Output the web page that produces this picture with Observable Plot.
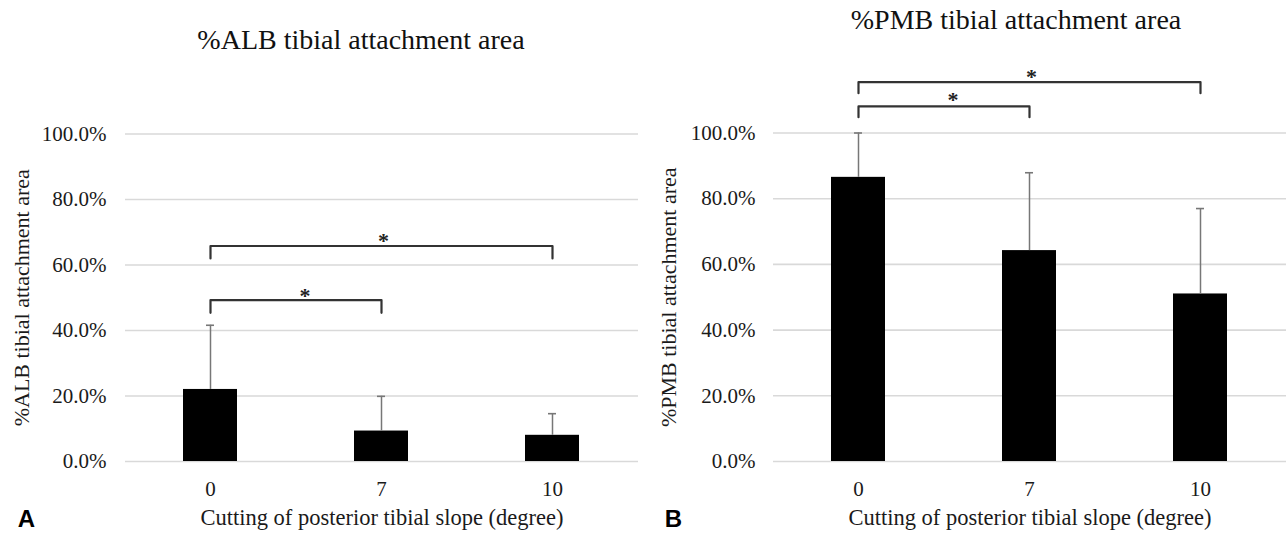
<!DOCTYPE html>
<html><head><meta charset="utf-8">
<script src="https://cdn.jsdelivr.net/npm/d3@7"></script>
<script src="https://cdn.jsdelivr.net/npm/@observablehq/plot@0.6"></script>
<style>
html,body{margin:0;padding:0;background:#fff;}
#wrap{display:flex;width:1286px;height:535px;overflow:hidden;}
#wrap svg{display:block;overflow:visible;}
</style></head><body><div id="wrap"></div>
<script>
// ---- data ----
const categories = ["0", "7", "10"];
const albMean  = [22.0, 9.3, 8.0];
const albUpper = [41.6, 19.9, 14.6];   // mean + SD
const pmbMean  = [86.5, 64.2, 51.0];
const pmbUpper = [100.0, 87.9, 77.0];  // mean + SD (first clipped at 100%)
const yTicks = [0, 20, 40, 60, 80, 100];
const albBrackets = [
  {from: "0", to: "7",  level: 49.3,  tip: 45.4,  star: 52.3},
  {from: "0", to: "10", level: 65.8,  tip: 62.0,  star: 69.2}
];
const pmbBrackets = [
  {from: "0", to: "7",  level: 108.1, tip: 104.8, star: 111.9},
  {from: "0", to: "10", level: 115.5, tip: 112.1, star: 118.8}
];
const xTitle = "Cutting of posterior tibial slope (degree)";

const SERIF = "'Liberation Serif', 'Times New Roman', serif";
const SANS = "'Liberation Sans', Arial, sans-serif";

function panel(o) {
  const W = 643, H = 535, mb = 74;
  const rows = categories.map((c, i) => ({cat: c, mean: o.mean[i], upper: o.upper[i]}));
  const segs = o.brackets.flatMap((b, k) => [
    {k, x: b.from, y: b.tip}, {k, x: b.from, y: b.level},
    {k, x: b.to, y: b.level}, {k, x: b.to, y: b.tip}
  ]);
  const step = (W - o.ml - o.mr) / categories.length;
  const bw = step * 0.316;
  return Plot.plot({
    width: W, height: H,
    marginLeft: o.ml, marginRight: o.mr, marginTop: o.mt, marginBottom: mb,
    style: {fontFamily: SERIF, color: "#1a1a1a", background: "#fff", overflow: "visible"},
    x: {type: "band", domain: categories, paddingInner: 0.684, paddingOuter: 0.342},
    y: {domain: [0, 100]},
    marks: [
      Plot.gridY(yTicks, {stroke: "#d9d9d9", strokeOpacity: 1, strokeWidth: 1.6}),
      Plot.axisY(yTicks, {tickSize: 0, tickPadding: o.tp, fontSize: 21, label: null,
        tickFormat: d => d.toFixed(1) + "%"}),
      Plot.axisX(categories, {tickSize: 0, tickPadding: 20, fontSize: 21, label: null}),
      Plot.barY(rows, {x: "cat", y: "mean", fill: "#000"}),
      Plot.ruleX(rows, {x: "cat", y1: "mean", y2: "upper", stroke: "#777", strokeWidth: 1.5}),
      Plot.tickY(rows, {x: "cat", y: "upper", stroke: "#777", strokeWidth: 1.6, inset: (bw - 8) / 2}),
      Plot.line(segs, {x: "x", y: "y", z: "k", stroke: "#333", strokeWidth: 2.2}),
      Plot.text(o.brackets.filter(b => b.to === "7"), {x: "from", y: "star", text: () => "*",
        dx: step / 2 + 9, dy: 6, fontSize: 22, fontWeight: "bold", fill: "#222"}),
      Plot.text(o.brackets.filter(b => b.to === "10"), {x: () => "7", y: "star", text: () => "*",
        dx: 2, dy: 6, fontSize: 22, fontWeight: "bold", fill: "#222"}),
      Plot.text([o.title], {frameAnchor: "top", dx: o.titleDx, dy: o.titleY - o.mt,
        fontSize: 28, lineAnchor: "middle", textAnchor: "middle", fill: "#111"}),
      Plot.text([o.ytitle], {frameAnchor: "left", rotate: -90, dx: o.yTitleX - o.ml,
        fontSize: 22, lineAnchor: "middle", textAnchor: "middle", fill: "#1a1a1a"}),
      Plot.text([xTitle], {frameAnchor: "bottom", dy: 56, fontSize: 22.5,
        lineAnchor: "middle", textAnchor: "middle", fill: "#1a1a1a"}),
      Plot.text([o.letter], {frameAnchor: "bottom-left", dx: o.letterX - o.ml, dy: 58,
        fontFamily: SANS, fontWeight: "bold", fontSize: 24, lineAnchor: "middle",
        textAnchor: "middle", fill: "#000"})
    ]
  });
}

const wrap = document.getElementById("wrap");
wrap.append(panel({
  mean: albMean, upper: albUpper, brackets: albBrackets,
  title: "%ALB tibial attachment area", ytitle: "%ALB tibial attachment area", letter: "A",
  ml: 125, mr: 5, mt: 133.5, tp: 19, titleDx: -21, titleY: 40, yTitleX: 21, letterX: 26
}));
wrap.append(panel({
  mean: pmbMean, upper: pmbUpper, brackets: pmbBrackets,
  title: "%PMB tibial attachment area", ytitle: "%PMB tibial attachment area", letter: "B",
  ml: 130, mr: 0, mt: 132.5, tp: 18, titleDx: -14, titleY: 20, yTitleX: 25, letterX: 30
}));
</script></body></html>
